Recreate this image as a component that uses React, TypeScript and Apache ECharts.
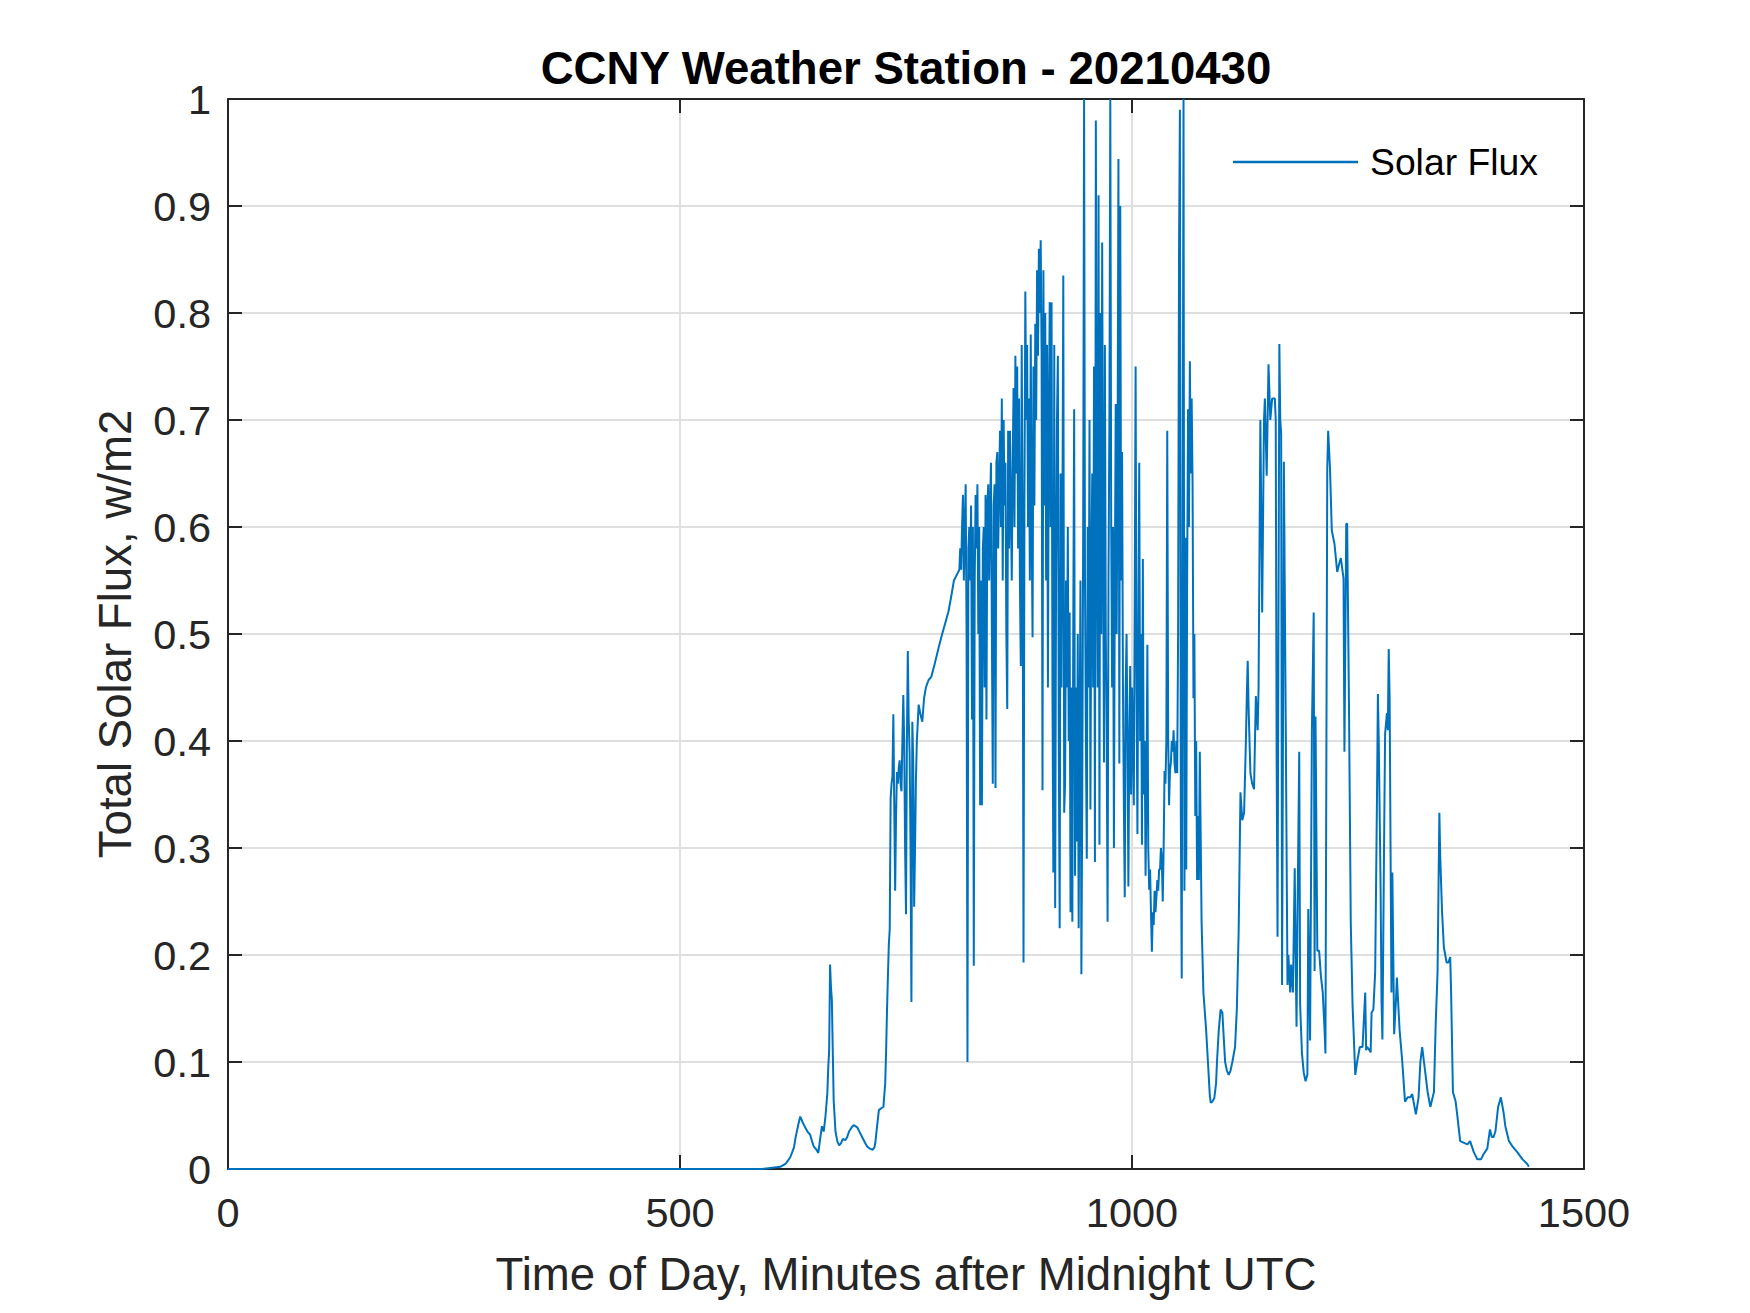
import React, { useEffect, useRef } from "react";
import * as echarts from "echarts";

// ---- Data (minutes after midnight UTC, total solar flux) ----
const xTicks = [0, 500, 1000, 1500];
const yTicks = [0, 0.1, 0.2, 0.3, 0.4, 0.5, 0.6, 0.7, 0.8, 0.9, 1];

const nightPoints: [number, number][] = [
  [0, 0], [100, 0], [200, 0], [300, 0], [400, 0], [500, 0], [589, 0],
];

const dawnPoints: [number, number][] = [
  [590, 0.0], [600, 0.001], [611, 0.002], [617, 0.005], [622, 0.011], [626, 0.02], [628, 0.03],
  [631, 0.042], [633, 0.049], [636, 0.043], [639, 0.038], [641, 0.035], [644, 0.032], [646, 0.026],
  [648, 0.021], [651, 0.018], [653, 0.015], [655, 0.028], [657, 0.04], [659, 0.035], [661, 0.05],
  [663, 0.071], [664, 0.095], [665, 0.111], [666, 0.191], [667, 0.17], [668, 0.158], [669, 0.11],
  [670, 0.064], [672, 0.035], [674, 0.026], [676, 0.022], [678, 0.024], [680, 0.028], [683, 0.027],
  [685, 0.03], [687, 0.035], [690, 0.039], [692, 0.041], [694, 0.04], [696, 0.039], [699, 0.034],
  [702, 0.029], [705, 0.024], [707, 0.021], [710, 0.019], [713, 0.018], [715, 0.02], [716, 0.024],
  [718, 0.04], [720, 0.055], [723, 0.057], [725, 0.058], [727, 0.08], [728, 0.11], [729, 0.149],
];

const morningPoints: [number, number][] = [
  [730, 0.18], [731, 0.21], [732, 0.224], [733, 0.346], [734, 0.36], [735, 0.367], [736, 0.425],
  [737, 0.339], [738, 0.26], [739, 0.33], [740, 0.371], [741, 0.36], [742, 0.375], [743, 0.382],
  [744, 0.36], [745, 0.353], [746, 0.4], [747, 0.443], [748, 0.4], [749, 0.3], [750, 0.238],
  [751, 0.4], [752, 0.484], [753, 0.42], [754, 0.389], [755, 0.3], [756, 0.156], [757, 0.418],
  [758, 0.38], [759, 0.245], [760, 0.3], [761, 0.364], [762, 0.4], [764, 0.434], [766, 0.425],
  [768, 0.418], [770, 0.44], [772, 0.45], [775, 0.457], [778, 0.46], [782, 0.473], [786, 0.487],
  [790, 0.5], [794, 0.512], [797, 0.521], [800, 0.535], [803, 0.55], [806, 0.555], [809, 0.56],
];

// one sample per minute, starting at minute 810
const middayStart = 810;
const middayFlux = [
  0.58, 0.56, 0.6, 0.63, 0.55, 0.6, 0.64, 0.5, 0.1, 0.58,
  0.6, 0.55, 0.62, 0.42, 0.6, 0.19, 0.55, 0.63, 0.58, 0.64,
  0.5, 0.6, 0.34, 0.55, 0.34, 0.58, 0.6, 0.45, 0.63, 0.42,
  0.62, 0.64, 0.55, 0.62, 0.66, 0.5, 0.36, 0.62, 0.64, 0.356,
  0.66, 0.67, 0.58, 0.64, 0.69, 0.6, 0.72, 0.55, 0.7, 0.62,
  0.66, 0.5, 0.43, 0.69, 0.58, 0.69, 0.62, 0.55, 0.66, 0.73,
  0.6, 0.76, 0.65, 0.75, 0.58, 0.72, 0.55, 0.47, 0.77, 0.6,
  0.193, 0.62, 0.82, 0.7, 0.77, 0.6, 0.72, 0.55, 0.78, 0.6,
  0.497, 0.75, 0.62, 0.79, 0.7, 0.84, 0.76, 0.86, 0.8, 0.868,
  0.76, 0.354, 0.84, 0.62, 0.8, 0.55, 0.77, 0.45, 0.7, 0.81,
  0.6, 0.81, 0.45, 0.277, 0.77, 0.244, 0.55, 0.7, 0.76, 0.4,
  0.225, 0.65, 0.45, 0.6, 0.835, 0.333, 0.362, 0.55, 0.45, 0.6,
  0.4, 0.52, 0.24, 0.45, 0.231, 0.5, 0.71, 0.274, 0.45, 0.306,
  0.5, 0.225, 0.4, 0.55, 0.182, 0.35, 0.6, 1.0, 0.55, 0.4,
  0.29, 0.6, 0.45, 0.7, 0.336, 0.55, 0.65, 0.45, 0.75, 0.287,
  0.98, 0.6, 0.45, 0.91, 0.303, 0.8, 0.5, 0.866, 0.6, 0.38,
  0.77, 0.5, 0.4, 0.231, 0.55, 0.7, 1.0, 0.6, 0.45, 0.6,
  0.3, 0.55, 0.715, 0.5, 0.65, 0.944, 0.379, 0.9, 0.55, 0.67,
  0.45, 0.34, 0.254, 0.45, 0.5, 0.4, 0.264, 0.4, 0.47, 0.35,
  0.45, 0.4, 0.34, 0.53, 0.75, 0.45, 0.313, 0.5, 0.66, 0.4,
  0.5, 0.303, 0.57, 0.35, 0.4, 0.274, 0.35, 0.49, 0.3, 0.261,
  0.28, 0.24, 0.203, 0.24, 0.228, 0.26, 0.24, 0.254, 0.27, 0.26,
  0.28, 0.28, 0.3, 0.29, 0.25, 0.3, 0.372, 0.36, 0.4, 0.69,
  0.405, 0.34, 0.372, 0.38, 0.4, 0.39, 0.41, 0.38, 0.37, 0.4,
  0.37, 0.5, 0.855, 0.99, 0.33, 0.178, 0.6, 1.0, 0.26, 0.59,
  0.28, 0.55, 0.71, 0.6, 0.755, 0.65, 0.72, 0.64, 0.44, 0.5,
  0.33, 0.4, 0.27, 0.33, 0.27, 0.39,
];

const afternoonPoints: [number, number][] = [
  [1077, 0.23], [1079, 0.165], [1082, 0.13], [1084, 0.1], [1086, 0.07], [1087, 0.062], [1089, 0.063],
  [1091, 0.066], [1093, 0.08], [1094, 0.1], [1096, 0.13], [1098, 0.149], [1100, 0.146], [1101, 0.13],
  [1103, 0.1], [1105, 0.092], [1107, 0.088], [1109, 0.092], [1111, 0.1], [1114, 0.114], [1116, 0.15],
  [1118, 0.223], [1120, 0.352], [1122, 0.326], [1124, 0.333], [1126, 0.4], [1127, 0.442], [1128, 0.475],
  [1129, 0.43], [1131, 0.37], [1133, 0.36], [1135, 0.355], [1137, 0.442], [1139, 0.41], [1140, 0.449],
  [1142, 0.7], [1144, 0.52], [1146, 0.7], [1147, 0.72], [1149, 0.648], [1151, 0.752], [1153, 0.7],
  [1155, 0.72], [1158, 0.72], [1159, 0.7], [1160, 0.384], [1161, 0.217], [1162, 0.5], [1163, 0.771],
  [1164, 0.7], [1165, 0.687], [1166, 0.172], [1167, 0.4], [1168, 0.661], [1170, 0.423], [1172, 0.172],
  [1173, 0.2], [1175, 0.165], [1176, 0.191], [1178, 0.165], [1180, 0.281], [1181, 0.2], [1182, 0.133],
  [1183, 0.23], [1185, 0.39], [1186, 0.153], [1188, 0.108], [1190, 0.09], [1192, 0.082], [1194, 0.088],
  [1195, 0.243], [1197, 0.12], [1199, 0.41], [1201, 0.52], [1202, 0.185], [1203, 0.423], [1205, 0.204],
  [1207, 0.204], [1209, 0.18], [1211, 0.165], [1213, 0.13], [1214, 0.108], [1216, 0.655], [1217, 0.69],
  [1219, 0.655], [1221, 0.597], [1224, 0.584], [1227, 0.558], [1229, 0.565], [1231, 0.571], [1234, 0.552],
  [1235, 0.39], [1237, 0.603], [1238, 0.603], [1240, 0.436], [1242, 0.23], [1244, 0.153], [1247, 0.088],
  [1249, 0.1], [1252, 0.114], [1255, 0.114], [1258, 0.165], [1259, 0.111],
];

const eveningPoints: [number, number][] = [
  [1260, 0.114], [1262, 0.112], [1264, 0.109], [1265, 0.146], [1267, 0.149], [1269, 0.184], [1271, 0.347],
  [1272, 0.444], [1273, 0.398], [1275, 0.263], [1276, 0.158], [1277, 0.121], [1279, 0.319], [1280, 0.407],
  [1282, 0.426], [1283, 0.41], [1284, 0.486], [1285, 0.44], [1286, 0.3], [1287, 0.165], [1288, 0.277],
  [1290, 0.126], [1292, 0.158], [1293, 0.179], [1296, 0.13], [1299, 0.1], [1302, 0.063], [1305, 0.067],
  [1308, 0.067], [1310, 0.07], [1314, 0.051], [1317, 0.067], [1319, 0.1], [1321, 0.114], [1323, 0.1],
  [1327, 0.072], [1330, 0.058], [1334, 0.072], [1336, 0.137], [1338, 0.184], [1340, 0.333], [1341, 0.291],
  [1343, 0.24], [1345, 0.207], [1348, 0.193], [1350, 0.193], [1352, 0.198], [1353, 0.165], [1355, 0.072],
  [1358, 0.063], [1360, 0.049], [1363, 0.026], [1371, 0.023], [1374, 0.026], [1378, 0.016], [1382, 0.009],
  [1386, 0.009], [1389, 0.014], [1393, 0.019], [1396, 0.037], [1398, 0.03], [1400, 0.03], [1402, 0.035],
  [1405, 0.058], [1408, 0.067], [1411, 0.053], [1413, 0.04], [1417, 0.026], [1421, 0.021], [1426, 0.016],
  [1432, 0.009], [1437, 0.005], [1439, 0.002],
];

const FONT = "'Liberation Sans', Arial, Helvetica, sans-serif";
const AXIS_COLOR = "#262626";
const GRID_COLOR = "#DFDFDF";
const LINE_COLOR = "#0072BD";

export default function App() {
  const ref = useRef<HTMLDivElement>(null);

  useEffect(() => {
    if (!ref.current) return;
    const chart = echarts.init(ref.current, undefined, { renderer: "svg" });

    const middayPoints: [number, number][] = middayFlux.map((v, i) => [middayStart + i, v]);
    const seriesData = [
      ...nightPoints,
      ...dawnPoints,
      ...morningPoints,
      ...middayPoints,
      ...afternoonPoints,
      ...eveningPoints,
    ];

    const axisLine = { show: true, onZero: false, lineStyle: { color: AXIS_COLOR, width: 2 } };
    const axisTick = { show: true, inside: true, length: 14, lineStyle: { color: AXIS_COLOR, width: 2 } };

    const xMin = xTicks[0];
    const xMax = xTicks[xTicks.length - 1];
    const xInterval = xTicks[1] - xTicks[0];
    const yMin = yTicks[0];
    const yMax = yTicks[yTicks.length - 1];
    const yInterval = 0.1;
    const plainNumber = (v: number) => String(Math.round(v * 1000) / 1000);

    chart.setOption({
      animation: false,
      backgroundColor: "#ffffff",
      textStyle: { fontFamily: FONT },
      grid: { left: 228, top: 99, width: 1356, height: 1070, containLabel: false },
      graphic: [
        {
          type: "text",
          x: 906,
          y: 68,
          style: {
            text: "CCNY Weather Station - 20210430",
            fontFamily: FONT,
            fontSize: 45.6,
            fontWeight: "bold",
            fill: "#000000",
            align: "center",
            verticalAlign: "middle",
          },
        },
      ],
      legend: {
        show: true,
        data: ["Solar Flux"],
        left: 1233,
        top: 143,
        padding: 0,
        itemWidth: 125,
        itemHeight: 2.5,
        icon: "rect",
        textStyle: {
          fontFamily: FONT,
          fontSize: 37.3,
          color: "#000000",
          lineHeight: 38,
          padding: [0, 0, 0, 7],
        },
      },
      xAxis: [
        {
          type: "value",
          position: "bottom",
          min: xMin,
          max: xMax,
          interval: xInterval,
          axisLine,
          axisTick,
          axisLabel: { color: AXIS_COLOR, fontSize: 41.5, margin: 22, fontFamily: FONT, formatter: plainNumber },
          splitLine: { show: true, lineStyle: { color: GRID_COLOR, width: 2 } },
          name: "Time of Day, Minutes after Midnight UTC",
          nameLocation: "middle",
          nameGap: 82,
          nameTextStyle: { color: AXIS_COLOR, fontSize: 45.6, fontFamily: FONT },
        },
        {
          type: "value",
          position: "top",
          min: xMin,
          max: xMax,
          interval: xInterval,
          axisLine,
          axisTick,
          axisLabel: { show: false },
          splitLine: { show: false },
        },
      ],
      yAxis: [
        {
          type: "value",
          position: "left",
          min: yMin,
          max: yMax,
          interval: yInterval,
          axisLine,
          axisTick,
          axisLabel: { color: AXIS_COLOR, fontSize: 41.5, margin: 17, fontFamily: FONT, formatter: plainNumber },
          splitLine: { show: true, lineStyle: { color: GRID_COLOR, width: 2 } },
          name: "Total Solar Flux, w/m2",
          nameLocation: "middle",
          nameGap: 90,
          nameTextStyle: { color: AXIS_COLOR, fontSize: 45.6, fontFamily: FONT },
        },
        {
          type: "value",
          position: "right",
          min: yMin,
          max: yMax,
          interval: yInterval,
          axisLine,
          axisTick,
          axisLabel: { show: false },
          splitLine: { show: false },
        },
      ],
      series: [
        {
          name: "Solar Flux",
          type: "line",
          xAxisIndex: 0,
          yAxisIndex: 0,
          data: seriesData,
          showSymbol: false,
          symbol: "none",
          lineStyle: { color: LINE_COLOR, width: 2 },
          itemStyle: { color: LINE_COLOR },
          z: 3,
        },
      ],
    });

    return () => chart.dispose();
  }, []);

  return (
    <div
      ref={ref}
      style={{ position: "fixed", left: 0, top: 0, width: 1750, height: 1313, background: "#fff" }}
    />
  );
}
